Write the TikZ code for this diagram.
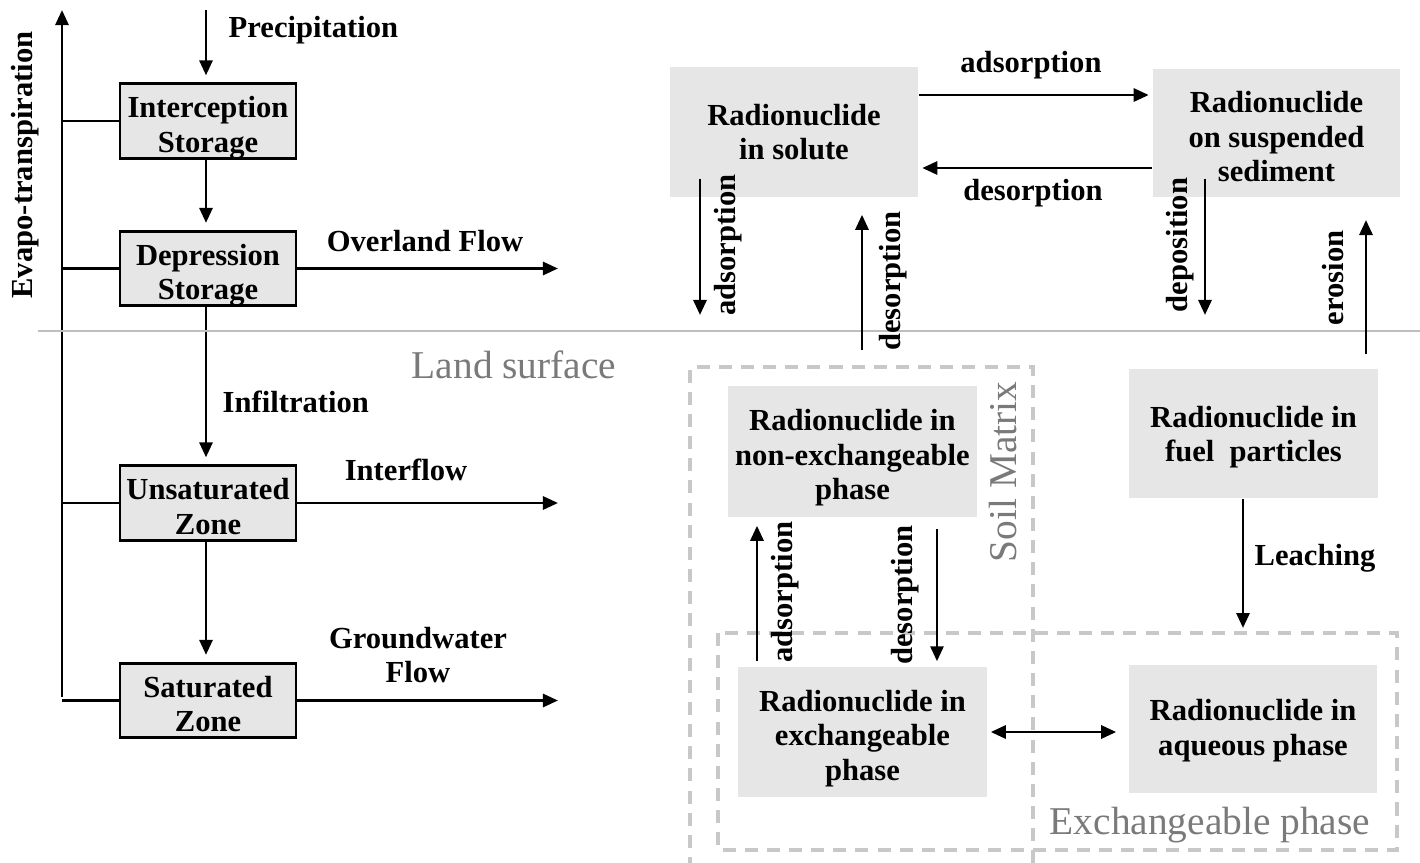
\documentclass[tikz,border=0pt]{standalone}
\usepackage{fontspec}
\setmainfont{Liberation Serif}
\usetikzlibrary{arrows.meta}

\definecolor{boxgray}{HTML}{E6E6E6}
\definecolor{dashgray}{HTML}{C8C8C8}
\definecolor{textgray}{HTML}{7A7A7A}
\definecolor{linegray}{HTML}{BEBEBE}

% invisible strut that lowers a node's text inside its box
\newcommand{\boxdrop}[1]{\rule{0pt}{#1}}

\begin{document}
\begin{tikzpicture}[x=0.01cm, y=-0.01cm,
    every node/.style={font=\fontsize{8.7}{9.8}\selectfont\bfseries, inner sep=0pt},
    waterbox/.style={draw, line width=0.75pt, fill=boxgray, minimum width=1.76cm, minimum height=0.74cm, align=center, text depth=1.7pt},
    nuclidebox/.style={fill=boxgray, minimum width=2.48cm, minimum height=1.3cm, align=center},
    flow/.style={line width=0.8pt, -{Triangle[length=1.5mm, width=1.3mm]}},
    twoway/.style={line width=0.8pt, {Triangle[length=1.5mm, width=1.3mm]}-{Triangle[length=1.5mm, width=1.3mm]}},
    zonebox/.style={dashgray, line width=0.9pt, dash pattern=on 3.7pt off 2.6pt},
    zonelabel/.style={font=\fontsize{11.2}{13}\selectfont, text=textgray}]
    \useasboundingbox (0,0) rectangle (1420,863);

    % hydrology column
    \node[waterbox] (intc) at (208,121) {\boxdrop{9.7pt}Interception\\Storage};
    \node[waterbox] (depr) at (208,268.5) {\boxdrop{9.7pt}Depression\\Storage};
    \node[waterbox] (unsat) at (208,503) {\boxdrop{9.7pt}Unsaturated\\Zone};
    \node[waterbox] (sat) at (208,700.5) {\boxdrop{9.7pt}Saturated\\Zone};

    \coordinate (etTop) at (62,10);
    \coordinate (etBot) at (62,697);
    \coordinate (rain) at (206,10);
    \coordinate (outX) at (558,0);

    \draw[flow] (etBot) -- (etTop);
    \foreach \b in {intc, depr, unsat, sat}
        \draw[line width=0.8pt] (\b.west) -- (\b.west -| etTop);

    \draw[flow, shorten >=2pt] (rain) -- (rain |- intc.north);
    \draw[flow, shorten >=2pt] (intc.south -| rain) -- (depr.north -| rain);
    \draw[flow, shorten >=2pt] (depr.south -| rain) -- (unsat.north -| rain);
    \draw[flow, shorten >=2pt] (unsat.south -| rain) -- (sat.north -| rain);

    \foreach \b in {depr, unsat, sat}
        \draw[flow] (\b.east) -- (\b.east -| outX);

    \node[rotate=90] (evap) at (25,165) {Evapo-transpiration};
    \node[anchor=west] (precip) at (228,30) {Precipitation};
    \node[anchor=west] (infil) at (222,402) {Infiltration};
    \node (overland) at (425,241) {Overland Flow};
    \node (interflow) at (406,470) {Interflow};
    \node[align=center] (gwflow) at (418,655) {Groundwater\\Flow};

    % land surface
    \coordinate (landW) at (38,331);
    \coordinate (landE) at (1420,331);
    \draw[linegray, line width=0.7pt] (landW) -- (landE);
    \node[zonelabel] (landlbl) at (514,365) {Land surface};

    % soil and exchangeable regions
    \draw[zonebox] (690,870) -- (690,367) -- (1033,367) -- (1033,870);
    \draw[zonebox] (718,633) rectangle (1397,850);
    \node[zonelabel, rotate=90] (soillbl) at (1003,472) {Soil Matrix};
    \node[zonelabel] (exchlbl) at (1210,825) {Exchangeable phase};

    % radionuclide compartments
    \node[nuclidebox] (solute) at (794,132) {Radionuclide\\in solute};
    \node[nuclidebox, minimum width=2.47cm, minimum height=1.28cm] (sedim) at (1276.5,133) {\boxdrop{8.2pt}Radionuclide\\on suspended\\sediment};
    \node[nuclidebox, minimum width=2.49cm, minimum height=1.31cm] (nonex) at (852.5,451.5) {\boxdrop{9.6pt}Radionuclide in\\non-exchangeable\\phase};
    \node[nuclidebox, minimum width=2.49cm] (exch) at (862.5,732) {\boxdrop{9.6pt}Radionuclide in\\exchangeable\\phase};
    \node[nuclidebox, minimum width=2.49cm, minimum height=1.29cm] (fuel) at (1253.5,433.5) {\boxdrop{8.2pt}Radionuclide in\\fuel\ \ particles};
    \node[nuclidebox, minimum height=1.28cm] (aqueous) at (1253,729) {\boxdrop{7pt}Radionuclide in\\aqueous phase};

    \coordinate (adsB) at (700,315);
    \coordinate (desB) at (862,350);
    \coordinate (depB) at (1205,315);
    \coordinate (eroT) at (1366,220);
    \coordinate (adsX) at (757,0);
    \coordinate (desX) at (937,0);
    \coordinate (leachEnd) at (1243,628);

    \draw[flow, shorten >=1pt] (solute.east |- 0,95) -- (sedim.west |- 0,95);
    \draw[flow, shorten >=1pt] (sedim.west |- 0,168) -- (solute.east |- 0,168);
    \draw[flow] ([yshift=1.9mm]solute.south -| adsB) -- (adsB);
    \draw[flow] (desB) -- ([yshift=-1.7mm]solute.south -| desB);
    \draw[flow] ([yshift=1.9mm]sedim.south -| depB) -- (depB);
    \draw[flow] ([yshift=1.4mm]fuel.north -| eroT) -- (eroT);
    \draw[flow] ([yshift=0.5mm]exch.north -| adsX) -- ([yshift=-0.8mm]nonex.south -| adsX);
    \draw[flow] ([yshift=-1.1mm]nonex.south -| desX) -- ([yshift=0.5mm]exch.north -| desX);
    \draw[flow] (fuel.south -| leachEnd) -- (leachEnd);
    \draw[twoway, shorten <=0.3mm, shorten >=1.2mm] (exch.east) -- (exch.east -| aqueous.west);

    \node (adslbl) at (1031,65) {adsorption};
    \node (deslbl) at (1033,193) {desorption};
    \node[rotate=90] (adslbl2) at (728,245) {adsorption};
    \node[rotate=90] (deslbl2) at (893,281) {desorption};
    \node[rotate=90] (deplbl) at (1180,245) {deposition};
    \node[rotate=90] (erolbl) at (1333,278) {erosion};
    \node[rotate=90] (adslbl3) at (785,592) {adsorption};
    \node[rotate=90] (deslbl3) at (905,595) {desorption};
    \node (leachlbl) at (1315,558) {Leaching};
\end{tikzpicture}
\end{document}
